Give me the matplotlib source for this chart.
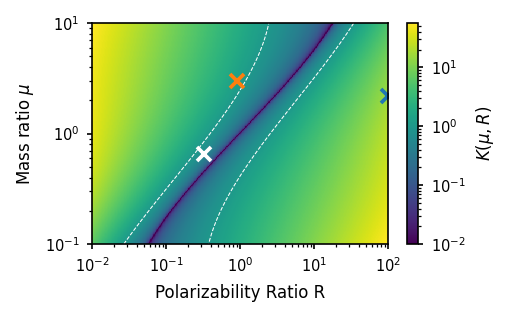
import numpy as np
import matplotlib
matplotlib.use('Agg')
import matplotlib.pyplot as plt
from matplotlib.colors import LogNorm

# values, in log10 units: v = log10(mu), distances in log10(R)
v_knots = [-1.0, -0.5, 0.0, 0.5, 1.0]
zero_knots = [-1.24, -0.68, -0.03, 0.70, 1.25]   # valley (K -> 0) position
left_knots = [0.33, 0.32, 0.37, 0.61, 0.86]      # valley -> left K=1 contour
right_knots = [0.81, 0.60, 0.40, 0.32, 0.28]     # valley -> right K=1 contour
grow_left = [1.80, 1.26, 0.97, 0.79, 0.72]       # decades of K per decade of R
grow_right = [0.69, 0.74, 0.80, 0.92, 1.33]

# marked points (R, mu)
pt_orange = (0.9, 3.0)
pt_white = (0.33, 0.66)
pt_blue = (100.0, 2.2)

R = np.logspace(-2, 2, 500)
mu = np.logspace(-1, 1, 400)
v = np.log10(mu)


def fit(knots, deg):
    return np.polyval(np.polyfit(v_knots, knots, deg), v)[:, None]


u0 = fit(zero_knots, 3)
d = np.log10(R)[None, :] - u0
right = d >= 0
dc = np.where(right, fit(right_knots, 3), fit(left_knots, 3))
g = np.where(right, fit(grow_right, 2), fit(grow_left, 2))
ad = np.abs(d)
K = (10 ** (g * ad) - 10 ** (-g * ad)) / (10 ** (g * dc) - 10 ** (-g * dc))
K = np.clip(K, 1e-4, None)

fig = plt.figure(figsize=(507 / 150, 317 / 150), dpi=150)
ax = fig.add_axes([0.1815, 0.230, 0.5838, 0.697])
cax = fig.add_axes([0.803, 0.230, 0.0217, 0.697])

mesh = ax.pcolormesh(R, mu, K, cmap='viridis', norm=LogNorm(vmin=1e-2, vmax=56),
                     shading='auto', rasterized=True)
ax.contour(R, mu, K, levels=[1], colors='white', linewidths=0.5, linestyles='--')

ax.plot(*pt_orange, 'x', color='C1', ms=7, mew=1.8)
ax.plot(*pt_white, 'x', color='white', ms=7, mew=1.8)
ax.plot(*pt_blue, 'x', color='C0', ms=7, mew=1.8)

ax.set_xscale('log')
ax.set_yscale('log')
ax.set_xlim(1e-2, 1e2)
ax.set_ylim(1e-1, 1e1)
ax.set_xlabel('Polarizability Ratio R', fontsize=8)
ax.set_ylabel(r'Mass ratio $\mu$', fontsize=8)
ax.tick_params(which='major', labelsize=7, length=2.5)
ax.tick_params(which='minor', length=1.5)

cb = fig.colorbar(mesh, cax=cax)
cb.set_label(r'$K(\mu,R)$', fontsize=8)
cb.ax.tick_params(which='major', labelsize=7, length=2.5)
cb.ax.tick_params(which='minor', length=1.5)

fig.savefig('out.png', dpi=150)
